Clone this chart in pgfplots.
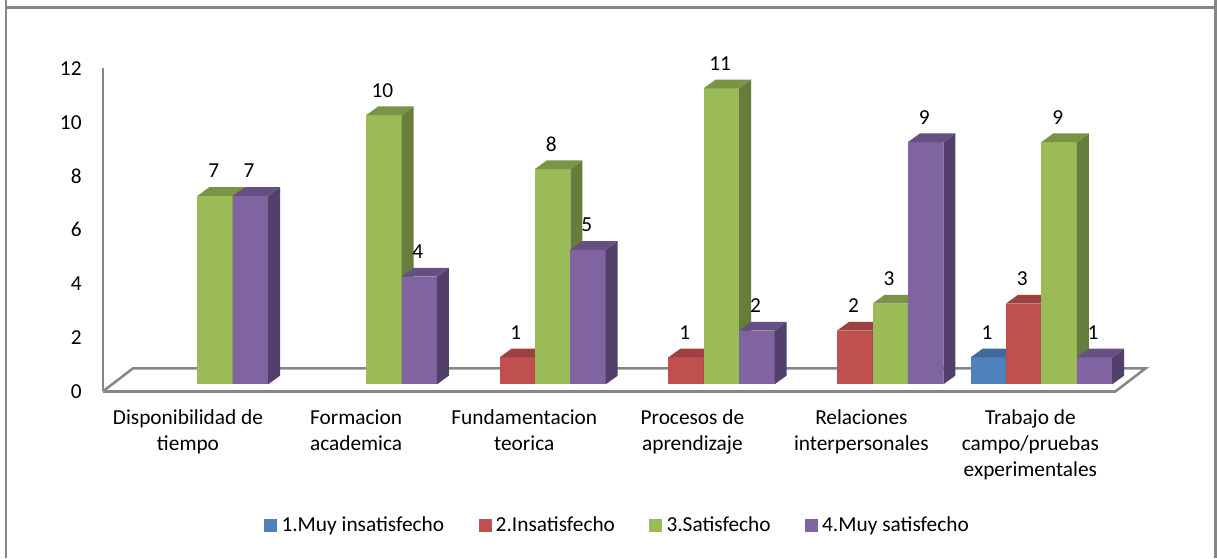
\documentclass[border=0pt]{standalone}
\usepackage{pgfplots}
\pgfplotsset{compat=1.18}
\usepackage{fontspec}
\setmainfont{Carlito}

\definecolor{azul}{HTML}{4F81BD}
\definecolor{azulL}{HTML}{3A6190}
\definecolor{azulT}{HTML}{41699A}
\definecolor{rojo}{HTML}{C0504D}
\definecolor{rojoL}{HTML}{8F3B39}
\definecolor{rojoT}{HTML}{9C413F}
\definecolor{verde}{HTML}{9BBB59}
\definecolor{verdeL}{HTML}{677D3B}
\definecolor{verdeT}{HTML}{7A9445}
\definecolor{morado}{HTML}{8064A2}
\definecolor{moradoL}{HTML}{533F6C}
\definecolor{moradoT}{HTML}{664F82}
\definecolor{marco}{HTML}{868686}

% grupo, serie (0-3), valor, color
\newcommand{\barra}[4]{%
  \pgfmathsetmacro{\xa}{#1*0.999+(#2-2)*0.2095}%
  \pgfmathsetmacro{\xb}{\xa+0.2095}%
  \pgfmathsetmacro{\xc}{\xa+0.071}%
  \pgfmathsetmacro{\xd}{\xb+0.071}%
  \pgfmathsetmacro{\xm}{\xa+0.1048}%
  \pgfmathsetmacro{\ya}{0.26}%
  \pgfmathsetmacro{\yb}{#3+0.26}%
  \pgfmathsetmacro{\yc}{\ya+0.323}%
  \pgfmathsetmacro{\yd}{\yb+0.323}%
  \edef\temp{%
    \noexpand\addplot[fill=#4,draw=none,forget plot] coordinates {(\xa,\ya) (\xb,\ya) (\xb,\yb) (\xa,\yb)} -- cycle;
    \noexpand\addplot[fill=#4L,draw=none,forget plot] coordinates {(\xb,\ya) (\xd,\yc) (\xd,\yd) (\xb,\yb)} -- cycle;
    \noexpand\addplot[fill=#4T,draw=none,forget plot] coordinates {(\xa,\yb) (\xc,\yd) (\xd,\yd) (\xb,\yb)} -- cycle;
    \noexpand\node[etiqueta] at (axis cs:\xm,\yb) {#3};
  }%
  \temp
}

\begin{document}
\begin{tikzpicture}[etiqueta/.style={xshift=-1pt,yshift=18.75pt,font=\fontsize{16}{19}\selectfont}]
  \path[use as bounding box,fill=white] (0,0) rectangle (912.75pt,418.5pt);
  \draw[marco,line width=1.9pt] (4.5pt,418.5pt) -- (4.5pt,0pt);
  \draw[marco,line width=1.9pt] (4.5pt,412.8pt) -- (911.5pt,412.8pt);
  \draw[marco,line width=1.9pt] (911.5pt,418.5pt) -- (911.5pt,0pt);
  \begin{axis}[
    at={(77.25pt,125pt)},
    anchor=south west,
    scale only axis,
    width=759.4pt,
    height=242.25pt,
    xmin=-0.558,xmax=5.434,
    ymin=0,ymax=12,
    clip=false,
    axis x line=bottom,
    axis y line=left,
    axis line style={-,draw=marco,line width=1.9pt},
    major tick length=0pt,
    ytick={0,2,...,12},
    xtick={-0.055,0.94,1.935,2.93,3.93,4.93},
    xticklabels={{Disponibilidad de\\tiempo},{Formacion\\academica},{Fundamentacion\\teorica},{Procesos de\\aprendizaje},{Relaciones\\interpersonales},{Trabajo de\\campo/pruebas\\experimentales}},
    x tick label style={align=center,font=\fontsize{16}{19.5}\selectfont,yshift=-10pt},
    y tick label style={font=\fontsize{16}{19}\selectfont,xshift=-12.5pt},
    /pgf/number format/assume math mode=true,
    legend columns=4,
    legend style={at={(0.5085,-0.415)},anchor=center,draw=none,fill=none,
      font=\fontsize{16}{19}\selectfont,/tikz/every even column/.append style={column sep=23.75pt}},
  ]
  % piso
  \addplot[draw=marco,line width=1.9pt,forget plot] coordinates {(-0.558,0) (-0.3805,0.855) (5.612,0.855) (5.434,0)};

  \barra{0}{2}{7}{verde}
  \barra{0}{3}{7}{morado}

  \barra{1}{2}{10}{verde}
  \barra{1}{3}{4}{morado}

  \barra{2}{1}{1}{rojo}
  \barra{2}{2}{8}{verde}
  \barra{2}{3}{5}{morado}

  \barra{3}{1}{1}{rojo}
  \barra{3}{2}{11}{verde}
  \barra{3}{3}{2}{morado}

  \barra{4}{1}{2}{rojo}
  \barra{4}{2}{3}{verde}
  \barra{4}{3}{9}{morado}

  \barra{5}{0}{1}{azul}
  \barra{5}{1}{3}{rojo}
  \barra{5}{2}{9}{verde}
  \barra{5}{3}{1}{morado}

  \addlegendimage{legend image code/.code={\fill[azul] (0pt,-4.5pt) rectangle (9pt,4.5pt);\path (10.5pt,0pt);}}
  \addlegendentry{1.Muy insatisfecho}
  \addlegendimage{legend image code/.code={\fill[rojo] (0pt,-4.5pt) rectangle (9pt,4.5pt);\path (10.5pt,0pt);}}
  \addlegendentry{2.Insatisfecho}
  \addlegendimage{legend image code/.code={\fill[verde] (0pt,-4.5pt) rectangle (9pt,4.5pt);\path (10.5pt,0pt);}}
  \addlegendentry{3.Satisfecho}
  \addlegendimage{legend image code/.code={\fill[morado] (0pt,-4.5pt) rectangle (9pt,4.5pt);\path (10.5pt,0pt);}}
  \addlegendentry{4.Muy satisfecho}
  \end{axis}
\end{tikzpicture}
\end{document}
